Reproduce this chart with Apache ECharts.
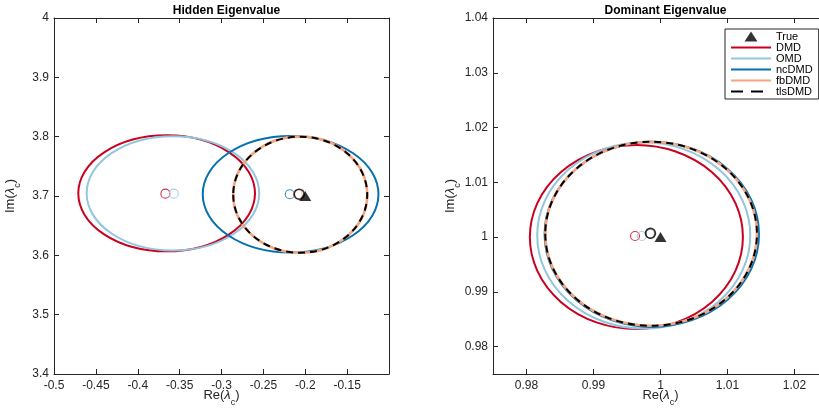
<!DOCTYPE html>
<html>
<head>
<meta charset="utf-8">
<script src="https://cdn.jsdelivr.net/npm/echarts@6/dist/echarts.min.js"></script>
<style>html,body{margin:0;padding:0;background:#fff}#c{width:819px;height:409px}</style>
</head>
<body>
<div id="c"></div>
<script>
// ---------- data ----------
const methods = ['DMD', 'OMD', 'ncDMD', 'fbDMD', 'tlsDMD'];
const legendNames = ['True', 'DMD', 'OMD', 'ncDMD', 'fbDMD', 'tlsDMD'];

// Hidden eigenvalue: confidence ellipses (centre, semi-axes) and estimate means
const hiddenCenterRe = [-0.3655, -0.358, -0.2175, -0.2060, -0.2060];
const hiddenCenterIm = [3.7045, 3.7045, 3.7030, 3.7022, 3.7022];
const hiddenRadiusRe = [0.1055, 0.1030, 0.1049, 0.0800, 0.0800];
const hiddenRadiusIm = [0.0978, 0.0964, 0.0983, 0.0978, 0.0978];
const hiddenMeanRe = [-0.3670, -0.3570, -0.2185, -0.2090, -0.2072];
const hiddenMeanIm = [3.7040, 3.7040, 3.7030, 3.7030, 3.7030];
const hiddenTrue = [-0.2, 3.7];

// Dominant eigenvalue
const domCenterRe = [0.9964, 0.9975, 0.9987, 0.9986, 0.9986];
const domCenterIm = [1.0000, 1.0003, 1.0005, 1.0006, 1.0006];
const domRadiusRe = [0.0159, 0.0159, 0.0160, 0.0158, 0.0158];
const domRadiusIm = [0.0168, 0.0170, 0.0169, 0.0168, 0.0168];
const domMeanRe = [0.9962, 0.9972, 0.9985, 0.9984, 0.9985];
const domMeanIm = [1.0002, 1.0002, 1.0006, 1.0007, 1.0007];
const domTrue = [1.0, 1.0];

// axis ticks
const hiddenXTicks = [-0.5, -0.45, -0.4, -0.35, -0.3, -0.25, -0.2, -0.15];
const hiddenYTicks = [3.4, 3.5, 3.6, 3.7, 3.8, 3.9, 4];
const domXTicks = [0.98, 0.99, 1, 1.01, 1.02];
const domYTicks = [0.98, 0.99, 1, 1.01, 1.02, 1.03, 1.04];

// ---------- styling ----------
const colors = { DMD: '#ca0020', OMD: '#92c5de', ncDMD: '#0571b0', fbDMD: '#f4a582', tlsDMD: '#000000' };
const FONT = '"Liberation Sans", Arial, Helvetica, sans-serif';
const AX = '#262626';

function ellipseRender(color, dash, width) {
  return function (params, api) {
    const cx = api.value(0), cy = api.value(1);
    const c = api.coord([cx, cy]);
    const s = api.size([api.value(2), api.value(3)], [cx, cy]);
    const rx = s[0], ry = s[1];
    const d = 'M ' + (c[0] - rx) + ' ' + c[1] +
      ' A ' + rx + ' ' + ry + ' 0 1 0 ' + (c[0] + rx) + ' ' + c[1] +
      ' A ' + rx + ' ' + ry + ' 0 1 0 ' + (c[0] - rx) + ' ' + c[1] + ' Z';
    return {
      type: 'path',
      shape: { pathData: d },
      style: { fill: 'none', stroke: color, lineWidth: width, lineDash: dash ? [7, 5] : null }
    };
  };
}

function axisPair(gridIndex, min, max, ticks, isX, name, nameGap) {
  const tick = { show: true, inside: true, length: 5, lineStyle: { color: AX, width: 1 }, customValues: ticks };
  const label = { show: true, color: AX, fontSize: 12, fontFamily: FONT, margin: isX ? 6 : 5, customValues: ticks };
  const main = {
    type: 'value', gridIndex: gridIndex, min: min, max: max,
    position: isX ? 'bottom' : 'left',
    splitLine: { show: false },
    axisLine: { show: true, onZero: false, lineStyle: { color: AX, width: 1 } },
    axisTick: tick,
    axisLabel: label,
    name: name, nameLocation: 'middle', nameGap: nameGap, nameMoveOverlap: false,
    nameTextStyle: {
      color: AX, fontFamily: FONT,
      rich: {
        a: { fontSize: 13, fontFamily: FONT, color: AX },
        g: { fontSize: 13, fontFamily: FONT, fontStyle: 'italic', color: AX },
        s: { fontSize: 9, fontFamily: FONT, color: AX, verticalAlign: 'bottom', padding: [0, 0, -5, 0] }
      }
    }
  };
  const mirror = {
    type: 'value', gridIndex: gridIndex, min: min, max: max,
    position: isX ? 'top' : 'right',
    splitLine: { show: false },
    axisLine: { show: true, onZero: false, lineStyle: { color: AX, width: 1 } },
    axisTick: Object.assign({}, tick),
    axisLabel: { show: false, customValues: ticks }
  };
  return [main, mirror];
}

const nameStr = function (part) { return '{a|' + part + '(}{g|λ}{s|c}{a|)}'; };

const series = [];
function addPlot(xIdx, yIdx, cRe, cIm, rRe, rIm, mRe, mIm, truth) {
  methods.forEach(function (m, i) {
    series.push({
      type: 'custom', name: m, xAxisIndex: xIdx, yAxisIndex: yIdx,
      coordinateSystem: 'cartesian2d',
      itemStyle: { color: colors[m] },
      renderItem: ellipseRender(colors[m], m === 'tlsDMD', m === 'fbDMD' ? 2.6 : 2),
      data: [[cRe[i], cIm[i], rRe[i], rIm[i]]],
      z: 2 + i,
      silent: true
    });
  });
  methods.forEach(function (m, i) {
    series.push({
      type: 'scatter', name: m + ' mean', xAxisIndex: xIdx, yAxisIndex: yIdx,
      symbol: 'circle', symbolSize: m === 'tlsDMD' ? 10 : 9,
      itemStyle: { color: 'rgba(0,0,0,0)', borderColor: colors[m], borderWidth: m === 'tlsDMD' ? 1.6 : 1.1 },
      data: [[mRe[i], mIm[i]]],
      z: 10 + i, silent: true
    });
  });
  series.push({
    type: 'scatter', name: 'True', xAxisIndex: xIdx, yAxisIndex: yIdx,
    symbol: 'triangle', symbolSize: [12, 10],
    itemStyle: { color: '#000' },
    data: [truth], z: 20, silent: true
  });
}

addPlot(0, 0, hiddenCenterRe, hiddenCenterIm, hiddenRadiusRe, hiddenRadiusIm, hiddenMeanRe, hiddenMeanIm, hiddenTrue);
addPlot(2, 2, domCenterRe, domCenterIm, domRadiusRe, domRadiusIm, domMeanRe, domMeanIm, domTrue);

const lineIcon = 'path://M0,0 L0,0 M0,4 L40,4 L40,6 L0,6 Z M40,10 L40,10';
const dashIcon = 'path://M0,0 L0,0 M0,4 L12,4 L12,6 L0,6 Z M20,4 L32,4 L32,6 L20,6 Z M40,10 L40,10';
const triIcon = 'path://M0,0 L0,0 M13.5,10 L20,0 L26.5,10 Z M40,10 L40,10';

const legendData = legendNames.map(function (n) {
  let icon = lineIcon, col = colors[n] || '#000';
  if (n === 'True') icon = triIcon;
  if (n === 'tlsDMD') icon = dashIcon;
  return { name: n, icon: icon, itemStyle: { color: col, borderWidth: 0 } };
});

const xa = [].concat(
  axisPair(0, -0.5, -0.1, hiddenXTicks, true, nameStr('Re'), 15),
  axisPair(1, 0.975, 1.025, domXTicks, true, nameStr('Re'), 15)
);
const ya = [].concat(
  axisPair(0, 3.4, 4, hiddenYTicks, false, nameStr('Im'), 37),
  axisPair(1, 0.975, 1.04, domYTicks, false, nameStr('Im'), 36)
);

const option = {
  backgroundColor: '#fff',
  animation: false,
  textStyle: { fontFamily: FONT },
  title: [
    { text: 'Hidden Eigenvalue', left: 221.5, top: 0, textAlign: 'center',
      textStyle: { fontSize: 12, fontWeight: 'bold', color: '#000', fontFamily: FONT } },
    { text: 'Dominant Eigenvalue', left: 660.5, top: 0, textAlign: 'center',
      textStyle: { fontSize: 12, fontWeight: 'bold', color: '#000', fontFamily: FONT } }
  ],
  grid: [
    { left: 54, top: 18, width: 335, height: 356, containLabel: false, outerBoundsMode: 'none' },
    { left: 493, top: 18, width: 335, height: 356, containLabel: false, outerBoundsMode: 'none' }
  ],
  legend: {
    orient: 'vertical', left: 725, top: 29,
    data: legendData,
    itemWidth: 40, itemHeight: 10, itemGap: 0,
    padding: [2, 6, 2, 6],
    borderColor: AX, borderWidth: 1, backgroundColor: '#fff',
    textStyle: { fontSize: 11, lineHeight: 11, color: '#000', fontFamily: FONT },
    selectedMode: false
  },
  xAxis: xa,
  yAxis: ya,
  series: series
};

const chart = echarts.init(document.getElementById('c'), null, { renderer: 'canvas' });
chart.setOption(option);
</script>
</body>
</html>
